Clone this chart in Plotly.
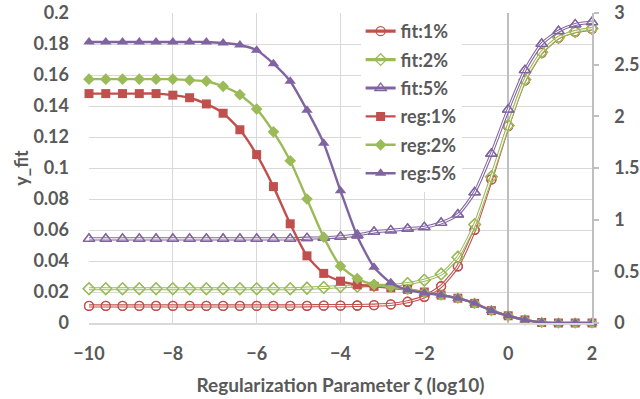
import plotly.graph_objects as go

# Regularization parameter zeta (log10)
x_vals = [-10, -9.6, -9.2, -8.8, -8.4, -8, -7.6, -7.2, -6.8, -6.4, -6, -5.6, -5.2, -4.8, -4.4,
          -4, -3.6, -3.2, -2.8, -2.4, -2, -1.6, -1.2, -0.8, -0.4, 0, 0.4, 0.8, 1.2, 1.6, 2]

# fit series (left axis, y_fit)
fit_1 = [0.0110, 0.0110, 0.0110, 0.0110, 0.0110, 0.0110, 0.0110, 0.0110, 0.0110, 0.0110,
         0.0110, 0.0110, 0.0110, 0.0111, 0.0112, 0.0112, 0.0113, 0.0115, 0.0120, 0.0137,
         0.0169, 0.0237, 0.0366, 0.0601, 0.0926, 0.1270, 0.1565, 0.1743, 0.1840, 0.1879, 0.1898]
fit_2 = [0.0221, 0.0221, 0.0221, 0.0221, 0.0221, 0.0221, 0.0221, 0.0221, 0.0221, 0.0221,
         0.0221, 0.0221, 0.0221, 0.0225, 0.0229, 0.0235, 0.0237, 0.0242, 0.0243, 0.0255,
         0.0276, 0.0316, 0.0425, 0.0635, 0.0943, 0.1274, 0.1570, 0.1747, 0.1842, 0.1881, 0.1900]
fit_5 = [0.0543, 0.0543, 0.0543, 0.0543, 0.0543, 0.0543, 0.0543, 0.0543, 0.0543, 0.0543,
         0.0543, 0.0543, 0.0543, 0.0547, 0.0550, 0.0556, 0.0567, 0.0588, 0.0597, 0.0608,
         0.0618, 0.0646, 0.0700, 0.0843, 0.1092, 0.1377, 0.1631, 0.1801, 0.1883, 0.1926, 0.1941]

# reg series (right axis)
reg_1 = [2.22, 2.22, 2.22, 2.22, 2.22, 2.205, 2.18, 2.12, 2.03, 1.87, 1.63, 1.32, 0.96, 0.65,
         0.48, 0.405, 0.37, 0.355, 0.34, 0.325, 0.30, 0.27, 0.24, 0.19, 0.12, 0.07, 0.03,
         0.005, 0, 0, 0]
reg_2 = [2.36, 2.36, 2.36, 2.36, 2.36, 2.36, 2.35, 2.34, 2.29, 2.21, 2.07, 1.85, 1.57, 1.20,
         0.83, 0.55, 0.43, 0.37, 0.35, 0.325, 0.295, 0.27, 0.24, 0.19, 0.12, 0.07, 0.03,
         0.005, 0, 0, 0]
reg_5 = [2.72, 2.72, 2.72, 2.72, 2.72, 2.72, 2.72, 2.72, 2.71, 2.69, 2.64, 2.51, 2.34, 2.06,
         1.74, 1.28, 0.84, 0.54, 0.39, 0.32, 0.29, 0.27, 0.24, 0.19, 0.12, 0.07, 0.03,
         0.005, 0, 0, 0]

RED, GREEN, PURPLE = "#C0504D", "#9BBB59", "#8064A2"
TXT = "#595959"
FONT = "Lato"

fig = go.Figure()

fits = [("fit:1%", fit_1, RED, "circle-open", 9),
        ("fit:2%", fit_2, GREEN, "diamond-open", 9),
        ("fit:5%", fit_5, PURPLE, "triangle-up-open", 10)]
regs = [("reg:1%", reg_1, RED, "square", 9),
        ("reg:2%", reg_2, GREEN, "diamond", 9),
        ("reg:5%", reg_5, PURPLE, "triangle-up", 10)]

for name, ys, col, sym, sz in fits:
    fig.add_trace(go.Scatter(x=x_vals, y=ys, name=name, legendgroup=name, mode="lines+markers",
                             line=dict(color=col, width=3.2, shape="spline", smoothing=0.6),
                             marker=dict(symbol=sym, size=sz, color=col, line=dict(width=1.3)),
                             cliponaxis=False))
    fig.add_trace(go.Scatter(x=x_vals, y=ys, legendgroup=name, showlegend=False, mode="lines",
                             line=dict(color="white", width=1.1, shape="spline", smoothing=0.6),
                             hoverinfo="skip", cliponaxis=False))
    fig.add_trace(go.Scatter(x=x_vals, y=ys, legendgroup=name, showlegend=False, mode="markers",
                             marker=dict(symbol=sym, size=sz, color=col, line=dict(width=1.3)),
                             hoverinfo="skip", cliponaxis=False))

for name, ys, col, sym, sz in regs:
    fig.add_trace(go.Scatter(x=x_vals, y=ys, name=name, legendgroup=name, mode="lines+markers",
                             yaxis="y2",
                             line=dict(color=col, width=2.4, shape="spline", smoothing=0.6),
                             marker=dict(symbol=sym, size=sz, color=col),
                             cliponaxis=False))

fig.update_layout(
    width=640, height=399,
    margin=dict(l=89, r=48, t=13, b=75.5, autoexpand=False),
    paper_bgcolor="white", plot_bgcolor="white",
    font=dict(family=FONT, color=TXT, size=18, weight="bold"),
    xaxis=dict(range=[-10, 2], dtick=2, showgrid=True, gridcolor="#d9d9d9", gridwidth=1,
               zeroline=True, zerolinecolor="#bfbfbf", zerolinewidth=1.5,
               showline=True, linecolor="#d9d9d9", linewidth=1.5, automargin=False,
               ticks="", tickfont=dict(size=18, color=TXT), ticklabelstandoff=14,
               ticklabeloverflow="allow",
               title=dict(text="Regularization Parameter ζ (log10)", font=dict(size=19, color=TXT),
                          standoff=15)),
    yaxis=dict(range=[0, 0.2], dtick=0.02, showgrid=True, gridcolor="#d9d9d9", gridwidth=1,
               zeroline=False, ticks="", tickfont=dict(size=18, color=TXT), automargin=False,
               ticklabelstandoff=19, ticklabeloverflow="allow",
               title=dict(text="y_fit", font=dict(size=18, color=TXT), standoff=0)),
    yaxis2=dict(range=[0, 3], dtick=0.5, overlaying="y", side="right", showgrid=False,
                zeroline=False, showline=True, linecolor="#bfbfbf", linewidth=1.5,
                ticks="outside", ticklen=5, tickcolor="#bfbfbf", tickwidth=1.5, automargin=False,
                ticklabelstandoff=12, ticklabeloverflow="allow",
                tickfont=dict(size=18, color=TXT)),
    legend=dict(x=0.54, y=1.0, xanchor="left", yanchor="top", bgcolor="white",
                font=dict(size=18, color=TXT), tracegroupgap=2, traceorder="grouped"),
    showlegend=True,
)

fig.write_html("out.html", config={"displayModeBar": False},
               post_script="document.body.style.margin='0px';document.body.style.overflow='hidden';")
